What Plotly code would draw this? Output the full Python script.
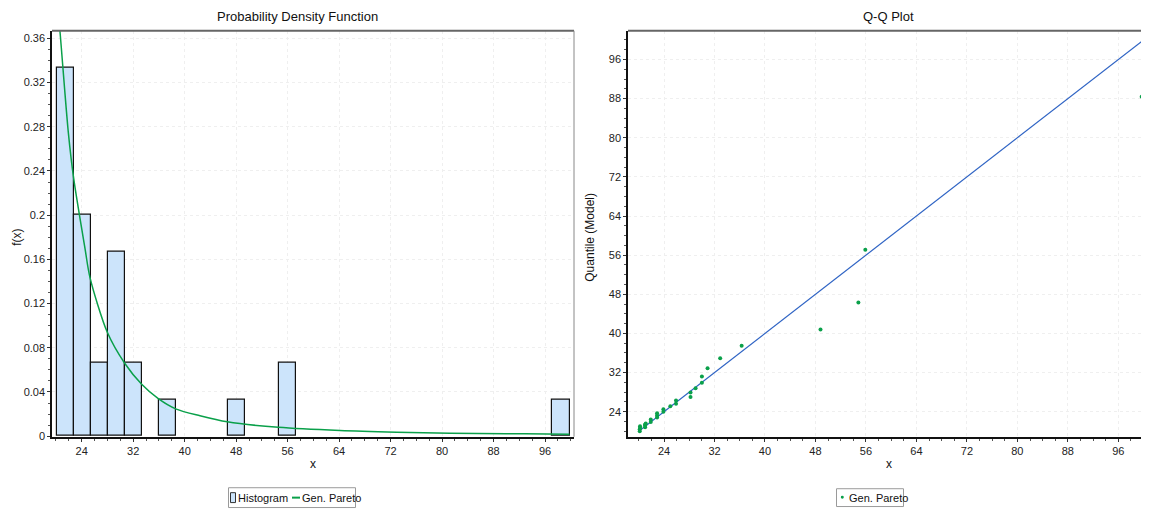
import plotly.graph_objects as go

# page is shown with the default 8px body margin, so the figure is 8px smaller
OFF = 8
W, H = 1149 - OFF, 516 - OFF

# ---- data ----
sample_x = [20.15, 20.15, 20.2, 20.2, 21.0, 21.0, 21.0, 21.1, 21.9, 21.9,
            22.9, 22.9, 22.9, 23.9, 23.9, 25.0, 25.9, 25.9, 28.2, 28.2,
            29.0, 30.0, 30.0, 30.9, 32.9, 36.3, 48.8, 54.8, 55.9, 99.7]
model_q = [20.0, 20.4, 20.7, 21.0, 20.8, 21.2, 21.4, 21.6, 21.9, 22.4,
           22.8, 23.2, 23.7, 24.0, 24.5, 25.1, 25.6, 26.3, 27.0, 27.9,
           28.8, 29.9, 31.2, 32.9, 34.9, 37.5, 40.8, 46.3, 57.1, 88.4]

pdf_x = [20.1, 20.63, 21.92, 22.76, 24.51, 25.29, 27.98, 30.68, 33.32,
         35.9, 38.7, 42.38, 46.63, 54.55, 64.14, 72.95, 81.24, 90.0, 96.26, 99.8]
pdf_y = [0.40, 0.366, 0.275, 0.233, 0.170, 0.1435, 0.094, 0.066, 0.047,
         0.034, 0.0245, 0.0185, 0.013, 0.008, 0.0051, 0.0036, 0.0027, 0.0023, 0.0020, 0.0018]

ref_line_x = [20.1, 99.8]
ref_line_y = [20.1, 99.8]

bin_start, bin_end, bin_size = 20.1, 99.82, 2.657

x_ticks = [24, 32, 40, 48, 56, 64, 72, 80, 88, 96]
pdf_ticks = [0, 0.04, 0.08, 0.12, 0.16, 0.2, 0.24, 0.28, 0.32, 0.36]
pdf_tick_text = ["0", "0.04", "0.08", "0.12", "0.16", "0.2", "0.24", "0.28", "0.32", "0.36"]

FONT = "Liberation Sans Narrow, Arial Narrow, Liberation Sans, Arial, sans-serif"
GREEN = "#0aa04a"
BLUE = "#2f64c4"
BAR_FILL = "#cce4fb"


def px(v):
    return (v - OFF) / W


def py(v):
    return (H - (v - OFF)) / H


L_X0, L_X1 = px(52), px(574)
R_X0, R_X1 = px(628), 1.0
Y0, Y1 = py(441), py(31)

fig = go.Figure()

fig.add_trace(go.Histogram(
    x=sample_x, xbins=dict(start=bin_start, end=bin_end, size=bin_size),
    histnorm="probability", name="Histogram",
    marker=dict(color=BAR_FILL, line=dict(color="#111", width=1.2)),
    xaxis="x", yaxis="y"))

fig.add_trace(go.Scatter(
    x=pdf_x, y=pdf_y, mode="lines", line=dict(color=GREEN, width=1.5, shape="spline", smoothing=0.8),
    name="Gen. Pareto", xaxis="x", yaxis="y"))

fig.add_trace(go.Scatter(
    x=ref_line_x, y=ref_line_y, mode="lines", line=dict(color=BLUE, width=1.2),
    xaxis="x2", yaxis="y2"))

fig.add_trace(go.Scatter(
    x=sample_x, y=model_q, mode="markers", marker=dict(color=GREEN, size=4),
    name="Gen. Pareto", xaxis="x2", yaxis="y2"))


def axis(minor_dtick, linewidth=1.5):
    return dict(
        showline=True, linecolor="#111", linewidth=linewidth, ticks="outside", ticklen=3,
        tickcolor="#333", tickfont=dict(family=FONT, size=11, color="#222"),
        showgrid=True, gridcolor="#efefef", griddash="dot", gridwidth=1, zeroline=False,
        minor=dict(dtick=minor_dtick, tick0=0, ticks="outside", ticklen=2,
                   tickcolor="#555", showgrid=False),
    )


fig.update_layout(
    width=W, height=H, margin=dict(l=0, r=0, t=0, b=0),
    paper_bgcolor="white", plot_bgcolor="white",
    font=dict(family=FONT, size=11, color="#222"),
    bargap=0, showlegend=False,
    xaxis=dict(domain=[L_X0, L_X1], range=[19.385, 100.5], tickvals=x_ticks,
               anchor="y", **axis(2, 2)),
    yaxis=dict(domain=[Y0, Y1], range=[-0.0005, 0.3669], tickvals=pdf_ticks,
               ticktext=pdf_tick_text, anchor="x", **axis(0.01)),
    xaxis2=dict(domain=[R_X0, R_X1], range=[18.29, 100.86], tickvals=x_ticks,
                anchor="y2", **axis(2, 2)),
    yaxis2=dict(domain=[Y0, Y1], range=[18.88, 101.87], tickvals=x_ticks, anchor="x2",
                **axis(2)),
)

# frame lines (top / right borders)
fig.add_shape(type="line", xref="paper", yref="paper", x0=L_X0, x1=L_X1, y0=Y1, y1=Y1,
              line=dict(color="#666", width=2))
fig.add_shape(type="line", xref="paper", yref="paper", x0=L_X1, x1=L_X1, y0=Y0, y1=Y1,
              line=dict(color="#888", width=1))
fig.add_shape(type="line", xref="paper", yref="paper", x0=R_X0, x1=R_X1, y0=Y1, y1=Y1,
              line=dict(color="#666", width=2))


# ---- legends (drawn manually to match the compact boxes) ----
def rect(x0, y0, x1, y1, line_color, fill="rgba(0,0,0,0)", width=1):
    fig.add_shape(type="rect", xref="paper", yref="paper",
                  x0=px(x0), x1=px(x1), y0=py(y1), y1=py(y0),
                  line=dict(color=line_color, width=width), fillcolor=fill)


def label(text, x, y, size=11, anchor="left"):
    fig.add_annotation(text=text, x=px(x), y=py(y), xref="paper", yref="paper",
                       showarrow=False, xanchor=anchor, yanchor="middle",
                       font=dict(family=FONT, size=size, color="#111"))


# left legend
rect(228.5, 492.5, 355.5, 512.5, "#9a9a9a")
rect(230.5, 497.5, 235.5, 507.5, "#333", BAR_FILL)
label("Histogram", 236, 502.5)
fig.add_shape(type="line", xref="paper", yref="paper", x0=px(292), x1=px(300),
              y0=py(502.5), y1=py(502.5), line=dict(color=GREEN, width=2))
label("Gen. Pareto", 300, 502.5)

# right legend
rect(836.5, 493.5, 903.5, 511.5, "#9a9a9a")
fig.add_shape(type="circle", xref="paper", yref="paper", x0=px(840.8), x1=px(843.8),
              y0=py(503.7), y1=py(500.7), line=dict(color=GREEN, width=0), fillcolor=GREEN)
label("Gen. Pareto", 847, 502.5)

# titles
label("Probability Density Function", 297, 17, 13, "center")
label("Q-Q Plot", 888, 17, 13, "center")
label("x", 313, 469, 12, "center")
label("x", 889, 469, 12, "center")
fig.add_annotation(text="f(x)", x=px(17), y=py(240), xref="paper", yref="paper",
                   showarrow=False, textangle=-90, xanchor="center", yanchor="middle",
                   font=dict(family=FONT, size=12, color="#111"))
fig.add_annotation(text="Quantile (Model)", x=px(590), y=py(240), xref="paper", yref="paper",
                   showarrow=False, textangle=-90, xanchor="center", yanchor="middle",
                   font=dict(family=FONT, size=12, color="#111"))

fig.write_html("out.html")
